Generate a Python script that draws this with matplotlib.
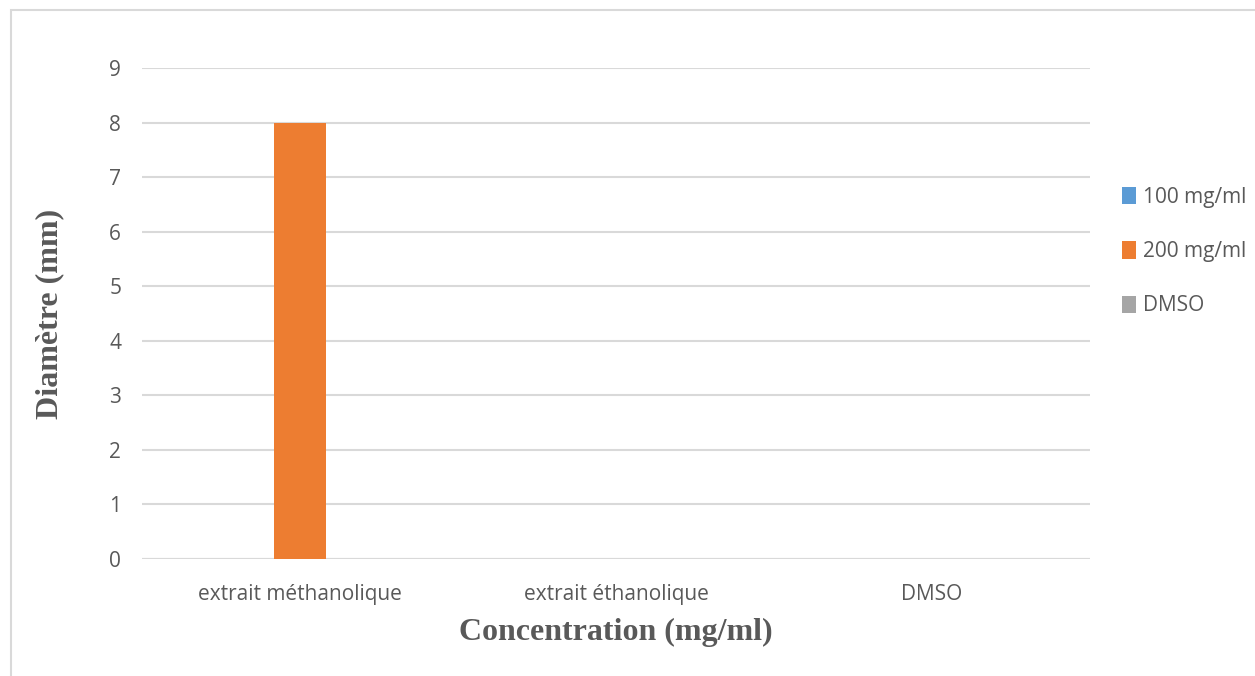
"""Bar chart of inhibition zone diameters per extract."""

import matplotlib.pyplot as plt
import numpy as np
from matplotlib.patches import Rectangle

categories = ["extrait méthanolique", "extrait éthanolique", "DMSO"]
series_names = ["100 mg/ml", "200 mg/ml", "DMSO"]
values_100 = [0, 0, 0]
values_200 = [8, 0, 0]
values_dmso = [0, 0, 0]
colors = ["#5B9BD5", "#ED7D31", "#A5A5A5"]
yticks = list(range(0, 10))

W, H = 1255, 676
fig = plt.figure(figsize=(W / 100, H / 100), dpi=100)

# outer chart frame (runs off the right and bottom edges)
fig.patches.append(Rectangle((11 / W, -0.05), 1.1, 1 - 10 / H + 0.05,
                             transform=fig.transFigure, fill=False,
                             edgecolor="#D9D9D9", linewidth=1.5))

ax = fig.add_axes([142 / W, 1 - 559 / H, (1090 - 142) / W, (559 - 68) / H])

x = np.arange(len(categories))
bw = 0.166
for i, (name, vals) in enumerate(zip(series_names, [values_100, values_200, values_dmso])):
    ax.bar(x + (i - 1) * bw, vals, width=bw, color=colors[i], label=name, zorder=3)

ax.set_xlim(-0.5, len(categories) - 0.5)
ax.set_ylim(0, 9)
ax.set_yticks(yticks)
ax.grid(axis="y", color="#D9D9D9", linewidth=1.5, zorder=0)
ax.set_axisbelow(True)
for s in ["top", "right", "left", "bottom"]:
    ax.spines[s].set_visible(False)
ax.axhline(0, color="#D9D9D9", linewidth=1.5, zorder=1)
ax.tick_params(length=0, labelsize=15, labelcolor="#595959")
ax.tick_params(axis="x", pad=18)
ax.tick_params(axis="y", pad=15)
ax.set_xticks(x)
ax.set_xticklabels(categories)
for lbl in ax.get_xticklabels() + ax.get_yticklabels():
    lbl.set_fontfamily("Open Sans")

ax.set_xlabel("Concentration (mg/ml)", fontfamily="Liberation Serif", fontweight="bold",
              fontsize=23, color="#595959", va="center")
ax.set_ylabel("Diamètre (mm)", fontfamily="Liberation Serif", fontweight="bold",
              fontsize=23, color="#595959", va="center")
ax.xaxis.set_label_coords(0.5, -0.149)
ax.yaxis.set_label_coords(-0.097, 0.5)

leg = ax.legend(loc="center left", bbox_to_anchor=(1.034, 0.626), frameon=False,
                prop={"family": "Open Sans", "size": 15}, handlelength=0.68,
                handleheight=0.9, handletextpad=0.3, labelspacing=1.6,
                borderaxespad=0.0, borderpad=0.0)
for t in leg.get_texts():
    t.set_color("#595959")

fig.savefig("out.png", dpi=100)
